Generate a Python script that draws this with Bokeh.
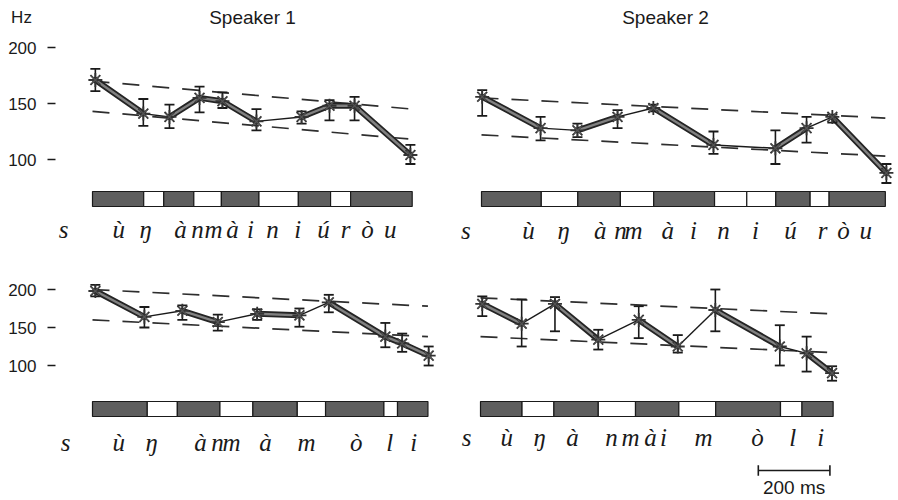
from bokeh.plotting import figure
from bokeh.layouts import column, row
from bokeh.models import Range1d, FixedTicker
from bokeh.core.properties import value
from bokeh.embed import file_html
from bokeh.resources import INLINE

# ---------------- data ----------------
titles = ["Speaker 1", "Speaker 2"]
y_label = "Hz"
y_ticks = [100, 150, 200]
scale_bar_ms = 200
scale_label = "200 ms"

# Speaker 1, sentence A
s1a_time = [8, 142, 215, 299, 363, 458, 584, 662, 732, 888]
s1a_f0 = [171, 141, 138, 155, 152, 134, 138, 148, 148, 104]
s1a_hi = [181, 154, 149, 165, 160, 145, 143, 153, 156, 113]
s1a_lo = [161, 130, 128, 142, 146, 126, 132, 135, 135, 96]
s1a_thick = [1, 0, 1, 1, 1, 0, 1, 1, 1]
s1a_top_t = [0, 894]
s1a_top_f = [170, 145]
s1a_base_t = [0, 894]
s1a_base_f = [143, 118]
s1a_seg = [0, 143, 199, 283, 360, 465, 575, 665, 721, 893]
s1a_dark = [1, 0, 1, 0, 1, 0, 1, 0, 1]
s1a_letters = ["s", "ù", "ŋ", "à", "n", "m", "à", "i", "n", "i", "ú", "r", "ò", "u"]
s1a_letter_t = [-81, 73, 148, 246, 293, 338, 391, 441, 503, 573, 645, 707, 768, 832]

# Speaker 2, sentence A
s2a_time = [2, 165, 268, 380, 480, 648, 821, 908, 980, 1131]
s2a_f0 = [156, 128, 126, 138, 146, 113, 110, 128, 138, 88]
s2a_hi = [162, 138, 132, 144, 149, 125, 126, 138, 140, 96]
s2a_lo = [139, 117, 120, 128, 143, 105, 96, 115, 133, 79]
s2a_thick = [1, 0, 1, 0, 1, 0, 1, 0, 1]
s2a_top_t = [0, 1128]
s2a_top_f = [155, 137]
s2a_base_t = [0, 1128]
s2a_base_f = [122, 103]
s2a_seg = [0, 167, 269, 388, 481, 651, 741, 822, 918, 971, 1128]
s2a_dark = [1, 0, 1, 0, 1, 0, 0, 1, 0, 1]
s2a_letters = ["s", "ù", "ŋ", "à", "n", "m", "à", "i", "n", "i", "ú", "r", "ò", "u"]
s2a_letter_t = [-44, 131, 229, 332, 388, 425, 520, 592, 676, 765, 863, 953, 1011, 1073]

# Speaker 1, sentence B
s1b_time = [8, 145, 251, 350, 460, 578, 660, 818, 865, 939]
s1b_f0 = [198, 164, 172, 157, 168, 166, 183, 138, 129, 113]
s1b_hi = [206, 177, 179, 167, 174, 175, 193, 156, 142, 125]
s1b_lo = [191, 150, 160, 146, 160, 151, 170, 124, 118, 100]
s1b_thick = [1, 0, 1, 0, 1, 0, 1, 1, 1]
s1b_top_t = [0, 937]
s1b_top_f = [200, 178]
s1b_base_t = [0, 937]
s1b_base_f = [160, 138]
s1b_seg = [0, 153, 237, 356, 448, 572, 651, 814, 852, 937]
s1b_dark = [1, 0, 1, 0, 1, 0, 1, 0, 1]
s1b_letters = ["s", "ù", "ŋ", "à", "n", "m", "à", "m", "ò", "l", "i"]
s1b_letter_t = [-75, 73, 165, 302, 349, 388, 483, 598, 737, 830, 897]

# Speaker 2, sentence B
s2b_time = [5, 115, 208, 329, 442, 551, 656, 836, 911, 982]
s2b_f0 = [181, 155, 181, 134, 160, 125, 173, 125, 116, 90]
s2b_hi = [191, 187, 190, 147, 178, 140, 200, 153, 138, 99]
s2b_lo = [165, 125, 145, 121, 136, 117, 145, 100, 92, 80]
s2b_thick = [1, 0, 1, 0, 1, 0, 1, 0, 1]
s2b_top_t = [0, 980]
s2b_top_f = [189, 168]
s2b_base_t = [0, 980]
s2b_base_f = [138, 117]
s2b_seg = [0, 116, 205, 329, 433, 554, 657, 838, 898, 985]
s2b_dark = [1, 0, 1, 0, 1, 0, 1, 0, 1]
s2b_letters = ["s", "ù", "ŋ", "à", "n", "m", "à", "i", "m", "ò", "l", "i"]
s2b_letter_t = [-39, 73, 165, 257, 366, 419, 475, 511, 623, 774, 872, 950]

# ---------------- layout constants (pixels) ----------------
PX_MS = 0.358          # pixels per millisecond
BAR_H = 15             # pixel height of one segment-bar unit
DARK = "#5e5e5e"
INK = "#1a1a1a"
SANS = "Liberation Sans"
HAND = "Liberation Serif"
TOTAL_W = 896
HEAD_H = 30


def base_fig(width, height, x_range, y_range, border_left=0, axis=False):
    p = figure(width=width, height=height, x_range=x_range, y_range=y_range,
               output_backend="svg", toolbar_location=None,
               x_axis_location=None,
               y_axis_location="left" if axis else None,
               min_border_left=border_left, min_border_right=0,
               min_border_top=0, min_border_bottom=0)
    p.outline_line_color = None
    p.grid.grid_line_color = None
    p.background_fill_color = "white"
    p.border_fill_color = "white"
    return p


def make_panel(width, height, border_left, page_left, page_top, t0_px,
               y200_px, px_hz, bar_top_px, time, f0, hi, lo, thick,
               top_t, top_f, base_t, base_f, seg, dark, letters, letter_t,
               letter_base_px, show_axis=False, scale_bar=None):
    fl = page_left + border_left
    fr = page_left + width
    ft = page_top
    fb = page_top + height
    x_range = Range1d((fl - t0_px) / PX_MS, (fr - t0_px) / PX_MS)
    y_range = Range1d(200 - (fb - y200_px) / px_hz, 200 - (ft - y200_px) / px_hz)
    bar_bot = bar_top_px + BAR_H
    seg_range = Range1d((bar_bot - fb) / BAR_H, (bar_bot - ft) / BAR_H)

    p = base_fig(width, height, x_range, y_range, border_left, show_axis)
    p.extra_y_ranges = {"seg": seg_range}

    if show_axis:
        ax = p.yaxis[0]
        ax.ticker = FixedTicker(ticks=y_ticks)
        ax.axis_line_color = None
        ax.major_tick_in = 0
        ax.major_tick_out = 8
        ax.major_tick_line_width = 1.6
        ax.major_tick_line_color = INK
        ax.minor_tick_line_color = None
        ax.major_label_standoff = 11
        ax.major_label_text_font = SANS
        ax.major_label_text_font_size = "17px"
        ax.major_label_text_color = INK

    # declination lines
    p.line(top_t, top_f, line_dash="17 13", line_width=1.7, line_color="#2e2e2e")
    p.line(base_t, base_f, line_dash="17 13", line_width=1.7, line_color="#2e2e2e")

    # contour
    n = len(time) - 1
    tk = [i for i in range(n) if thick[i]]
    tn = [i for i in range(n) if not thick[i]]
    if tn:
        p.segment([time[i] for i in tn], [f0[i] for i in tn],
                  [time[i + 1] for i in tn], [f0[i + 1] for i in tn],
                  line_width=1.4, line_color=INK)
    if tk:
        p.segment([time[i] for i in tk], [f0[i] for i in tk],
                  [time[i + 1] for i in tk], [f0[i + 1] for i in tk],
                  line_width=6, line_color="#242424", line_cap="round")
        p.segment([time[i] for i in tk], [f0[i] for i in tk],
                  [time[i + 1] for i in tk], [f0[i + 1] for i in tk],
                  line_width=2.4, line_color="#808080", line_cap="round")

    # error bars
    p.segment(time, lo, time, hi, line_width=1.6, line_color=INK)
    p.scatter(time, hi, marker="dash", size=10, line_width=1.8, line_color=INK)
    p.scatter(time, lo, marker="dash", size=10, line_width=1.8, line_color=INK)
    p.scatter(time, f0, marker="asterisk", size=14, line_width=1.8, line_color="#333333")
    p.scatter(time, f0, marker="x", size=11, line_width=1.2, line_color="#555555")

    # segment bar
    lefts = seg[:-1]
    rights = seg[1:]
    colors = [DARK if d else "white" for d in dark]
    p.quad(left=lefts, right=rights, bottom=[0] * len(lefts), top=[1] * len(lefts),
           fill_color=colors, line_color=INK, line_width=1.2, y_range_name="seg")

    # transcription
    p.text(letter_t, [(bar_bot - letter_base_px) / BAR_H] * len(letter_t), text=letters,
           text_font=value(HAND), text_font_style="italic", text_font_size="25px",
           text_align="center", text_baseline="alphabetic", text_color=INK,
           y_range_name="seg")

    if scale_bar is not None:
        sb_start = scale_bar
        sb_end = scale_bar + scale_bar_ms
        yb = (bar_bot - 470) / BAR_H
        p.segment([sb_start], [yb], [sb_end], [yb], line_width=1.6,
                  line_color=INK, y_range_name="seg")
        p.segment([sb_start, sb_end], [yb - 0.35, yb - 0.35], [sb_start, sb_end],
                  [yb + 0.35, yb + 0.35], line_width=1.6, line_color=INK,
                  y_range_name="seg")
        p.text([(sb_start + sb_end) / 2], [(bar_bot - 487) / BAR_H], text=[scale_label],
               text_font=value(SANS), text_font_size="19px", text_align="center",
               text_baseline="middle", text_color=INK, y_range_name="seg")
    return p


# header strip with the speaker titles and the unit label (pixel units)
header = base_fig(TOTAL_W, HEAD_H, Range1d(0, TOTAL_W), Range1d(HEAD_H, 0))
header.text([21], [17], text=[y_label], text_font=value(SANS), text_font_size="17px",
            text_align="center", text_baseline="middle", text_color=INK)
header.text([252, 665], [17, 17], text=titles, text_font=value(SANS),
            text_font_size="19px", text_align="center", text_baseline="middle",
            text_color=INK)

TOP_H = 245 - HEAD_H
BOT_H = 498 - 245
RIGHT_W = TOTAL_W - 440

tl = make_panel(440, TOP_H, 55, 0, HEAD_H, 92, 47, 1.12, 191,
                s1a_time, s1a_f0, s1a_hi, s1a_lo, s1a_thick,
                s1a_top_t, s1a_top_f, s1a_base_t, s1a_base_f,
                s1a_seg, s1a_dark, s1a_letters, s1a_letter_t, 229,
                show_axis=True)
tr = make_panel(RIGHT_W, TOP_H, 0, 440, HEAD_H, 481, 47, 1.12, 191,
                s2a_time, s2a_f0, s2a_hi, s2a_lo, s2a_thick,
                s2a_top_t, s2a_top_f, s2a_base_t, s2a_base_f,
                s2a_seg, s2a_dark, s2a_letters, s2a_letter_t, 230)
bl = make_panel(440, BOT_H, 55, 0, 245, 92, 289, 0.76, 401,
                s1b_time, s1b_f0, s1b_hi, s1b_lo, s1b_thick,
                s1b_top_t, s1b_top_f, s1b_base_t, s1b_base_f,
                s1b_seg, s1b_dark, s1b_letters, s1b_letter_t, 442,
                show_axis=True)
br = make_panel(RIGHT_W, BOT_H, 0, 440, 245, 480, 289, 0.76, 401,
                s2b_time, s2b_f0, s2b_hi, s2b_lo, s2b_thick,
                s2b_top_t, s2b_top_f, s2b_base_t, s2b_base_f,
                s2b_seg, s2b_dark, s2b_letters, s2b_letter_t, 437,
                scale_bar=776)

layout = column(header, row(tl, tr, spacing=0), row(bl, br, spacing=0), spacing=0)

open("out.html", "w").write(file_html(layout, INLINE))
